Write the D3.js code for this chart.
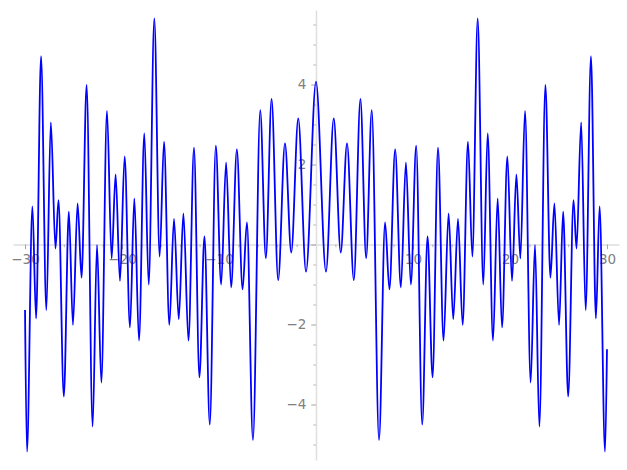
<!DOCTYPE html>
<html>
<head>
<meta charset="utf-8">
<script src="https://cdn.jsdelivr.net/npm/d3@7"></script>
<style>
  html, body { margin: 0; padding: 0; background: #ffffff; }
  svg { display: block; }
</style>
</head>
<body>
<svg id="chart" width="627" height="470"></svg>
<script>
const curveX = [
  -30, -29.8, -29.24, -28.86, -28.35, -27.8, -27.34, -26.86, -26.55, -26.0,
  -25.48, -25.06, -24.58, -24.17, -23.65, -23.03, -22.58, -22.13, -21.55, -21.07,
  -20.66, -20.21, -19.73, -19.18, -18.73, -18.25, -17.7, -17.25, -16.67, -16.12,
  -15.67, -15.12, -14.64, -14.15, -13.67, -13.15, -12.58, -12.02, -11.5, -10.95,
  -10.33, -9.78, -9.27, -8.75, -8.16, -7.57, -7.12, -6.5, -5.75, -5.17,
  -4.58, -3.9, -3.2, -2.55, -1.83, -1.03, 0,
  1.03, 1.83, 2.55, 3.2, 3.9, 4.58, 5.17, 5.75, 6.5, 7.12,
  7.57, 8.16, 8.75, 9.27, 9.78, 10.33, 10.95, 11.5, 12.02, 12.58,
  13.15, 13.67, 14.15, 14.64, 15.12, 15.67, 16.12, 16.67, 17.25, 17.7,
  18.25, 18.73, 19.18, 19.73, 20.21, 20.66, 21.07, 21.55, 22.13, 22.58,
  23.03, 23.65, 24.17, 24.58, 25.06, 25.48, 26.0, 26.55, 26.86, 27.34,
  27.8, 28.35, 28.86, 29.24, 29.8, 30
];
const curveY = [
  -1.64, -5.18, 0.95, -1.85, 4.71, -1.64, 3.05, -0.1, 1.11, -3.8,
  0.82, -2.01, 1.03, -0.83, 3.99, -4.55, -0.01, -3.45, 3.34, -0.35,
  1.75, -0.91, 2.2, -2.07, 1.15, -2.4, 2.78, -1.0, 5.65, -0.3,
  2.57, -2.01, 0.64, -1.87, 0.78, -2.4, 2.42, -3.32, 0.2, -4.5,
  2.47, -1.0, 2.05, -1.07, 2.38, -1.12, 0.55, -4.89, 3.36, -0.34,
  3.64, -0.89, 2.53, -0.2, 3.15, -0.68, 4.07,
  -0.68, 3.15, -0.2, 2.53, -0.89, 3.64, -0.34, 3.36, -4.89, 0.55,
  -1.12, 2.38, -1.07, 2.05, -1.0, 2.47, -4.5, 0.2, -3.32, 2.42,
  -2.4, 0.78, -1.87, 0.64, -2.01, 2.57, -0.3, 5.65, -1.0, 2.78,
  -2.4, 1.15, -2.07, 2.2, -0.91, 1.75, -0.35, 3.34, -3.45, -0.01,
  -4.55, 3.99, -0.83, 1.03, -2.01, 0.82, -3.8, 1.11, -0.1, 3.05,
  -1.64, 4.71, -1.85, 0.95, -5.18, -2.62
];

// Tick values and labels
const xMajorTicks = [-30, -20, -10, 0, 10, 20, 30];
const xTickLabels = ["\u221230", "\u221220", "\u221210", "", "10", "20", "30"];
const xMinorTicks = [-28, -26, -24, -22, -18, -16, -14, -12, -8, -6, -4, -2,
                     2, 4, 6, 8, 12, 14, 16, 18, 22, 24, 26, 28];
const yMajorTicks = [-4, -2, 0, 2, 4];
const yTickLabels = ["\u22124", "\u22122", "", "2", "4"];
const yMinorTicks = [-5, -4.5, -3.5, -3, -2.5, -1.5, -1, -0.5,
                     0.5, 1, 1.5, 2.5, 3, 3.5, 4.5, 5, 5.5];

const svg = d3.select("#chart");

const x = d3.scaleLinear().domain([-31.24, 31.24]).range([13, 619]);
const y = d3.scaleLinear().domain([-5.3875, 5.8625]).range([460, 10]);

const axisColor = "#dedede";
const tickColor = "#9a9a9a";
const labelColor = "#808080";
const fontSize = "13.5px";
const fontFamily = "'DejaVu Sans', sans-serif";

function styleAxis(g) {
  g.select(".domain").attr("stroke", axisColor).attr("stroke-width", 1.5);
  g.selectAll(".tick line").attr("stroke", tickColor).attr("stroke-width", 0.9);
  g.selectAll(".tick text")
    .attr("fill", labelColor)
    .style("font-size", fontSize)
    .style("font-family", fontFamily);
}

// X axis (through y = 0)
const gx = svg.append("g").attr("transform", `translate(0,${y(0)})`);
gx.call(d3.axisBottom(x)
  .tickValues(xMajorTicks)
  .tickFormat((d, i) => xTickLabels[i])
  .tickSize(4.7)
  .tickPadding(5)
  .tickSizeOuter(0));
styleAxis(gx);

const gxm = svg.append("g").attr("transform", `translate(0,${y(0)})`);
gxm.call(d3.axisBottom(x).tickValues(xMinorTicks).tickFormat("").tickSize(2.7).tickSizeOuter(0));
gxm.select(".domain").remove();
gxm.selectAll(".tick line").attr("stroke", tickColor).attr("stroke-width", 0.7);

// Y axis (through x = 0)
const gy = svg.append("g").attr("transform", `translate(${x(0)},0)`);
gy.call(d3.axisLeft(y)
  .tickValues(yMajorTicks)
  .tickFormat((d, i) => yTickLabels[i])
  .tickSize(4.7)
  .tickPadding(5)
  .tickSizeOuter(0));
styleAxis(gy);

const gym = svg.append("g").attr("transform", `translate(${x(0)},0)`);
gym.call(d3.axisLeft(y).tickValues(yMinorTicks).tickFormat("").tickSize(2.7).tickSizeOuter(0));
gym.select(".domain").remove();
gym.selectAll(".tick line").attr("stroke", tickColor).attr("stroke-width", 0.7);

// Curve
const pts = curveX.map((d, i) => [d, curveY[i]]);
const line = d3.line()
  .x(d => x(d[0]))
  .y(d => y(d[1]))
  .curve(d3.curveMonotoneX);

svg.append("path")
  .datum(pts)
  .attr("d", line)
  .attr("fill", "none")
  .attr("stroke", "#0000ff")
  .attr("stroke-width", 1.8)
  .attr("stroke-linejoin", "round");
</script>
</body>
</html>
